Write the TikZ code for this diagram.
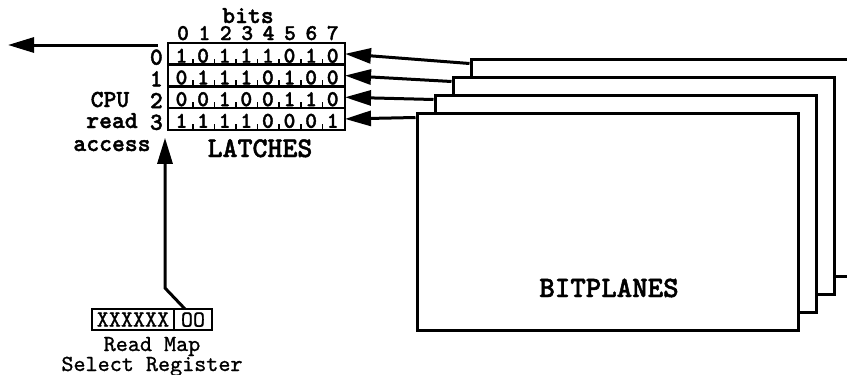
\documentclass[tikz,border=0pt]{standalone}
\usepackage{fontspec}
\newfontfamily\cour{lmmonolt10-bold.otf}[FakeBold=1.6]
\newfontfamily\courlt{lmmono10-regular.otf}[FakeBold=1]
\usetikzlibrary{arrows.meta,positioning}

\begin{document}
\begin{tikzpicture}[
  x=1pt, y=-1pt,
  font=\cour\fontsize{24.5}{24.5}\selectfont,
  plane/.style={draw,line width=3pt,fill=white,minimum width=381pt,minimum height=217pt,inner sep=0pt},
  latchrow/.style={draw,line width=2.6pt,minimum width=177pt,minimum height=21.7pt,inner sep=0pt,outer sep=0pt},
  bit/.style={inner sep=0pt,anchor=base,font=\cour\fontsize{22.5}{22.5}\selectfont},
  regbox/.style={draw,line width=2pt,minimum height=21pt,inner sep=0pt,outer sep=0pt,text depth=0pt,font=\courlt\fontsize{23}{23}\selectfont},
  lbl/.style={inner sep=0pt,anchor=base},
  wire/.style={line width=3pt},
  >={Triangle[length=26pt,width=15pt]}
]
\useasboundingbox (0,0) rectangle (847,375);
% bitplanes, back one first
\foreach \p in {0,...,3}
  \node[plane] (plane\p) at (661.5-18*\p,167.5+18*\p) {};
\node[lbl,font=\cour\fontsize{29.5}{29.5}\selectfont] (bpl) at (609,297) {BITPLANES};
% latches
\foreach \bits [count=\r from 0] in {{1,0,1,1,1,0,1,0},{0,1,1,1,0,1,0,0},{0,0,1,0,0,1,1,0},{1,1,1,1,0,0,0,1}} {
  \node[latchrow] (row\r) at (256.5,53.85+21.7*\r) {};
  \foreach \b [count=\c from 0] in \bits
    \node[bit] at ([xshift={13.5pt+21.6pt*\c},yshift=2pt]row\r.south west) {\b};
  \foreach \c in {1,...,7}
    \draw[line width=1.5pt] ([xshift={3.2pt+21.6pt*\c}]row\r.south west) -- ++(0,-6);
  \node[lbl,anchor=base east] (num\r) at ([xshift=-5pt]row\r.south west) {\r};
}
\node[lbl] (bitslbl) at (248,23) {bits};
\foreach \c in {0,...,7}
  \node[lbl,font=\cour\fontsize{22.5}{22.5}\selectfont] (col\c) at (183+21.4*\c,40) {\c};
\node[lbl] (cpu) at (110,107) {CPU};
\node[lbl] (cpuread) at (112,128) {read};
\node[lbl] (cpuacc) at (112,151) {access};
\node[lbl,font=\cour\fontsize{28.5}{28.5}\selectfont] (latchlbl) at (260,157) {LATCHES};
% read map select register
\node[regbox,minimum width=82pt] (regx) at (133,319.5) {XXXXXX};
\node[regbox,minimum width=38pt,right=0pt of regx] (regsel) {OO};
\node[lbl,font=\courlt\fontsize{23}{23}\selectfont] (regmap) at (152,351) {Read Map};
\node[lbl,font=\courlt\fontsize{23}{23}\selectfont] (regname) at (152,371) {Select Register};
% connectors
\coordinate (cpuout) at (8,45);
\draw[wire,->] ([xshift=-10pt,yshift=-2pt]row0.north west) -- (cpuout);
\foreach \p in {0,...,3}
  \draw[wire,->] ([yshift=-6pt]plane\p.north west) -- (row\p.east);
\draw[wire,->] ([xshift=-8pt]regsel.north) -- ++(-20,-21) -- ([xshift=-3pt,yshift=-8pt]row3.south west);
\end{tikzpicture}
\end{document}
